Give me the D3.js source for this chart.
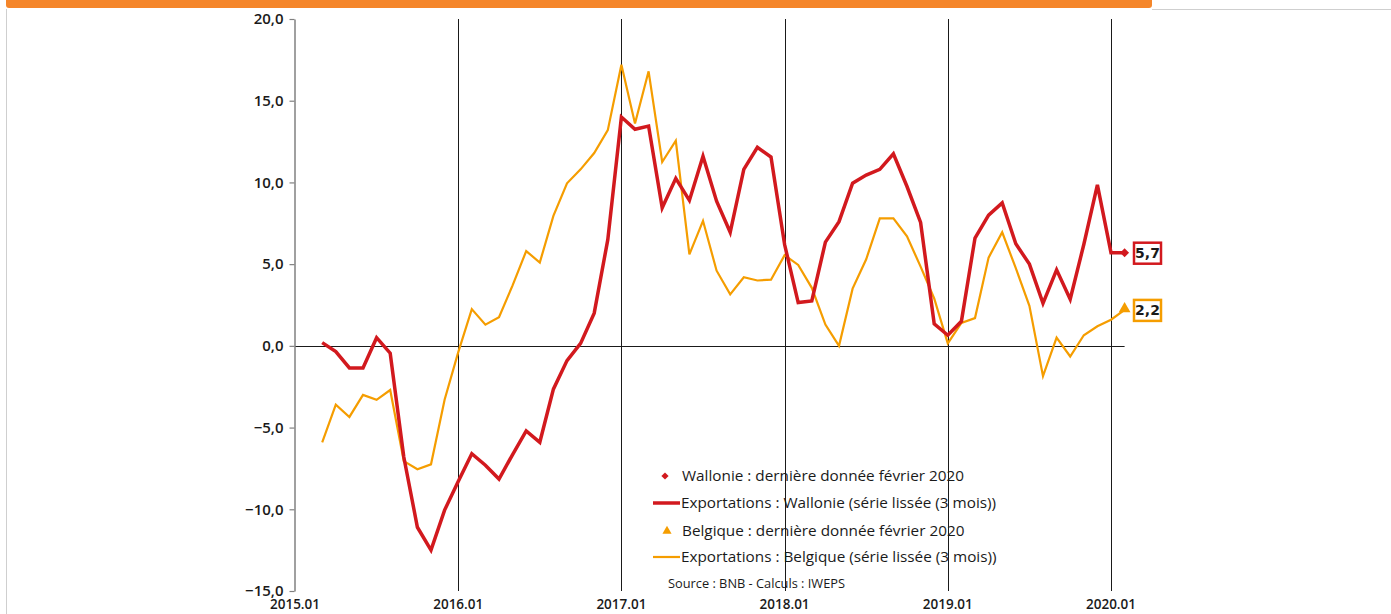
<!DOCTYPE html>
<html>
<head>
<meta charset="utf-8">
<script src="https://cdn.jsdelivr.net/npm/d3@7"></script>
<style>
  body { margin: 0; background: #fff; }
  svg { display: block; font-family: 'Open Sans', sans-serif; }
</style>
</head>
<body>
<script>
// monthly values, first point = 2015.03, last = 2020.02
let startMonth = 2
let wallonie = [
  0.2, -0.35, -1.35, -1.35, 0.5, -0.45, -6.8, -11.1, -12.5, -10.05,
  -8.3, -6.6, -7.3, -8.15, -6.65, -5.2, -5.9, -2.65, -0.9, 0.15, 2.0, 6.5,
  14.0, 13.25, 13.45, 8.45, 10.25, 8.9, 11.6, 8.85, 6.95, 10.8, 12.15, 11.55,
  6.2, 2.65, 2.75, 6.35, 7.6, 9.95, 10.45, 10.8, 11.75, 9.75, 7.55, 1.35,
  0.65, 1.5, 6.6, 8.0, 8.75, 6.25, 5.0, 2.6, 4.65, 2.85, 6.2, 9.85,
  5.7, 5.7
]
let belgique = [
  -5.9, -3.6, -4.35, -3.0, -3.3, -2.7, -7.05, -7.55, -7.25, -3.3,
  -0.4, 2.25, 1.3, 1.75, 3.7, 5.8, 5.1, 7.95, 9.95, 10.8, 11.8, 13.2,
  17.2, 13.6, 16.8, 11.25, 12.55, 5.6, 7.65, 4.6, 3.15, 4.2, 4.0, 4.05,
  5.55, 4.95, 3.55, 1.3, 0.0, 3.5, 5.3, 7.8, 7.8, 6.7, 4.85, 2.9,
  0.15, 1.4, 1.7, 5.4, 6.95, 4.75, 2.45, -1.85, 0.5, -0.65, 0.65, 1.2,
  1.6, 2.2
]
let xTicks = ['2015.01', '2016.01', '2017.01', '2018.01', '2019.01', '2020.01']
let yTicks = [-15, -10, -5, 0, 5, 10, 15, 20]
let lastLabels = ['5,7', '2,2']
let legendLabels = [
  'Wallonie : dernière donnée février 2020',
  'Exportations : Wallonie (série lissée (3 mois))',
  'Belgique : dernière donnée février 2020',
  'Exportations : Belgique (série lissée (3 mois))'
]
let sourceText = 'Source : BNB - Calculs : IWEPS'

let width = 1391
let height = 614
let red = '#d2191e'
let orange = '#f59d00'

let svg = d3.select('body').append('svg').attr('width', width).attr('height', height)

// frame bits at the top
svg.append('rect').attr('x', 6).attr('y', -6).attr('width', 1146).attr('height', 14)
   .attr('rx', 3).attr('fill', '#f5862a')
svg.append('line').attr('x1', 1152).attr('x2', width).attr('y1', 9.5).attr('y2', 9.5)
   .attr('stroke', '#cfcfcf').attr('stroke-width', 1)
svg.append('line').attr('x1', 6.5).attr('x2', 6.5).attr('y1', 9).attr('y2', height)
   .attr('stroke', '#cfcfcf').attr('stroke-width', 1)

let xScale = d3.scaleLinear().domain([0, 60]).range([295, 1111])
let yScale = d3.scaleLinear().domain([-15, 20]).range([591, 19])

// vertical gridlines
svg.append('g').selectAll('line')
   .data(d3.range(12, 61, 12))
   .enter().append('line')
   .attr('x1', d => Math.round(xScale(d)) + 0.5)
   .attr('x2', d => Math.round(xScale(d)) + 0.5)
   .attr('y1', yScale(20)).attr('y2', yScale(-15))
   .attr('stroke', '#1a1a1a').attr('stroke-width', 1)

// zero line
svg.append('line')
   .attr('x1', xScale(0)).attr('x2', xScale(61))
   .attr('y1', Math.round(yScale(0)) + 0.5).attr('y2', Math.round(yScale(0)) + 0.5)
   .attr('stroke', '#1a1a1a').attr('stroke-width', 1)

// y axis
let yAxis = d3.axisLeft(yScale).tickValues(yTicks).tickSize(5).tickSizeOuter(0)
   .tickFormat(d => d3.format('.1f')(d).replace('.', ','))
let gy = svg.append('g').attr('transform', 'translate(294.5,0)').call(yAxis)
gy.select('.domain').attr('stroke', '#808080').attr('stroke-width', 1.5)
gy.selectAll('.tick line').attr('stroke', '#808080').attr('stroke-width', 1.2)
gy.selectAll('.tick text').attr('x', -11).attr('font-size', 15).attr('font-weight', 600)
  .attr('fill', '#1a1a1a').attr('font-family', "'Open Sans', sans-serif")

// x axis labels
svg.append('g').selectAll('text')
   .data(xTicks)
   .enter().append('text')
   .attr('x', (d, i) => xScale(i * 12))
   .attr('y', 609)
   .attr('text-anchor', 'middle')
   .attr('font-size', 13.5).attr('font-weight', 600).attr('fill', '#1a1a1a')
   .text(d => d)

let line = d3.line()
   .x((d, i) => xScale(i + startMonth))
   .y(d => yScale(d))

svg.append('path').datum(belgique).attr('d', line)
   .attr('fill', 'none').attr('stroke', orange).attr('stroke-width', 2.2)
   .attr('stroke-linejoin', 'miter')
svg.append('path').datum(wallonie).attr('d', line)
   .attr('fill', 'none').attr('stroke', red).attr('stroke-width', 3.5)
   .attr('stroke-linejoin', 'miter')

// end markers
let lastI = wallonie.length - 1
let xLast = xScale(lastI + startMonth)
svg.append('path').attr('d', d3.symbol(d3.symbolSquare, 40)())
   .attr('transform', 'translate(' + xLast + ',' + yScale(wallonie[lastI]) + ') rotate(45)')
   .attr('fill', red)
svg.append('path').attr('d', d3.symbol(d3.symbolTriangle, 60)())
   .attr('transform', 'translate(' + xLast + ',' + (yScale(belgique[lastI]) - 1) + ')')
   .attr('fill', orange)

// value boxes
let boxes = [
  { v: wallonie[lastI], label: lastLabels[0], c: red },
  { v: belgique[lastI], label: lastLabels[1], c: orange }
]
boxes.forEach(b => {
  let cy = yScale(b.v)
  svg.append('rect').attr('x', 1134).attr('y', cy - 10).attr('width', 27).attr('height', 21)
     .attr('fill', '#fff').attr('stroke', b.c).attr('stroke-width', 2.5)
  svg.append('text').attr('x', 1147.5).attr('y', cy + 5.5).attr('text-anchor', 'middle')
     .attr('font-size', 14).attr('font-weight', 700).attr('fill', '#1a1a1a')
     .attr('font-family', "'DejaVu Sans', sans-serif")
     .text(b.label)
})

// legend
let legend = svg.append('g')
let rows = [476, 503, 531, 557]
legend.append('path').attr('d', d3.symbol(d3.symbolSquare, 26)())
   .attr('transform', 'translate(665,' + rows[0] + ') rotate(45)').attr('fill', red)
legend.append('line').attr('x1', 653).attr('x2', 680).attr('y1', rows[1]).attr('y2', rows[1])
   .attr('stroke', red).attr('stroke-width', 3.5)
legend.append('path').attr('d', d3.symbol(d3.symbolTriangle, 36)())
   .attr('transform', 'translate(667,' + rows[2] + ')').attr('fill', orange)
legend.append('line').attr('x1', 653).attr('x2', 680).attr('y1', rows[3]).attr('y2', rows[3])
   .attr('stroke', orange).attr('stroke-width', 2.2)
legend.selectAll('text.lab')
   .data(legendLabels)
   .enter().append('text')
   .attr('class', 'lab')
   .attr('x', (d, i) => i % 2 == 0 ? 682 : 681)
   .attr('y', (d, i) => rows[i] + 5)
   .attr('font-size', 15.3).attr('font-weight', 500).attr('fill', '#1a1a1a')
   .text(d => d)
legend.append('text').attr('x', 668).attr('y', 588)
   .attr('font-size', 12.8).attr('font-weight', 500).attr('fill', '#1a1a1a')
   .text(sourceText)
</script>
</body>
</html>
